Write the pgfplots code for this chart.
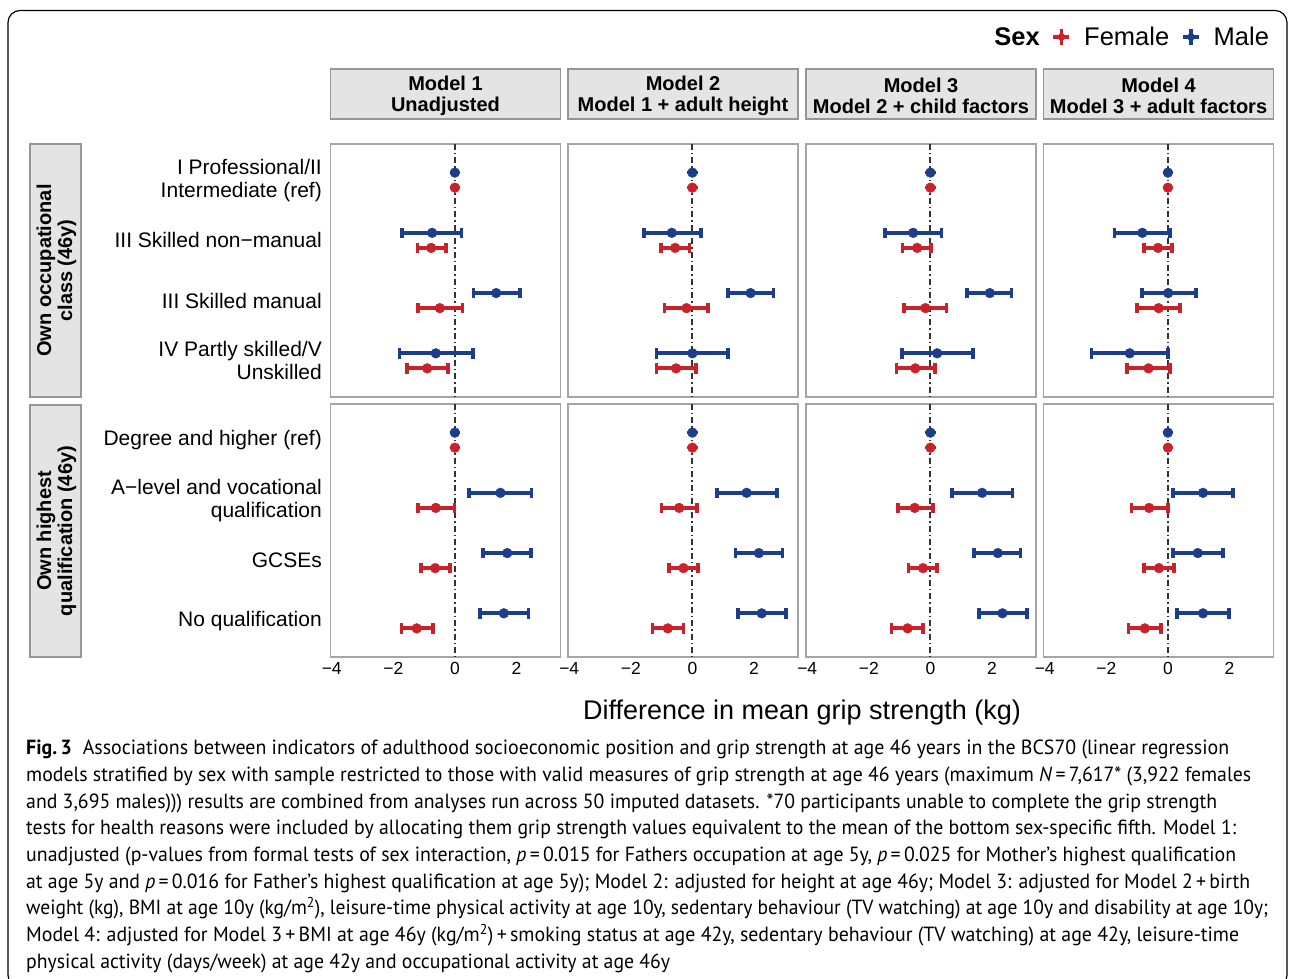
\documentclass[border=0pt]{standalone}
\usepackage{fontspec}
\setmainfont{Liberation Sans}
\newfontfamily\capfont{PT Sans}
\usepackage{graphicx}
\usepackage{pgfplots}
\usepackage{pgfplotstable}
\pgfplotsset{compat=1.18}

\definecolor{femred}{RGB}{200,34,42}
\definecolor{malblue}{RGB}{27,61,138}
\definecolor{stripfill}{RGB}{228,228,228}
\definecolor{stripline}{RGB}{150,150,150}
\definecolor{panelline}{RGB}{165,165,165}

% cat: 1-4 top to bottom; me/mlo/mhi male estimate and 95% CI, fe/flo/fhi female
\pgfplotstableread{
cat me mlo mhi fe flo fhi
1 0 0 0 0 0 0
2 -0.74 -1.71 0.21 -0.77 -1.22 -0.28
3 1.34 0.60 2.11 -0.49 -1.19 0.25
4 -0.62 -1.80 0.58 -0.90 -1.55 -0.23
}\occA
\pgfplotstableread{
cat me mlo mhi fe flo fhi
1 0 0 0 0 0 0
2 -0.67 -1.58 0.28 -0.56 -1.02 -0.10
3 1.89 1.15 2.63 -0.19 -0.90 0.51
4 0.00 -1.16 1.15 -0.53 -1.17 0.12
}\occB
\pgfplotstableread{
cat me mlo mhi fe flo fhi
1 0 0 0 0 0 0
2 -0.56 -1.48 0.36 -0.43 -0.90 0.02
3 1.93 1.19 2.63 -0.16 -0.85 0.52
4 0.22 -0.93 1.39 -0.49 -1.10 0.15
}\occC
\pgfplotstableread{
cat me mlo mhi fe flo fhi
1 0 0 0 0 0 0
2 -0.83 -1.73 0.06 -0.32 -0.77 0.14
3 0.01 -0.84 0.91 -0.30 -1.01 0.39
4 -1.24 -2.48 0.01 -0.63 -1.33 0.06
}\occD
\pgfplotstableread{
cat me mlo mhi fe flo fhi
1 0 0 0 0 0 0
2 1.48 0.45 2.49 -0.62 -1.20 -0.01
3 1.70 0.91 2.48 -0.64 -1.11 -0.16
4 1.59 0.81 2.39 -1.24 -1.74 -0.71
}\eduA
\pgfplotstableread{
cat me mlo mhi fe flo fhi
1 0 0 0 0 0 0
2 1.76 0.79 2.74 -0.43 -1.01 0.14
3 2.16 1.40 2.92 -0.29 -0.76 0.19
4 2.25 1.49 3.04 -0.80 -1.29 -0.29
}\eduB
\pgfplotstableread{
cat me mlo mhi fe flo fhi
1 0 0 0 0 0 0
2 1.68 0.71 2.66 -0.51 -1.06 0.08
3 2.19 1.41 2.93 -0.24 -0.71 0.22
4 2.34 1.57 3.13 -0.74 -1.26 -0.24
}\eduC
\pgfplotstableread{
cat me mlo mhi fe flo fhi
1 0 0 0 0 0 0
2 1.14 0.16 2.12 -0.61 -1.18 0.00
3 0.97 0.16 1.79 -0.29 -0.77 0.19
4 1.14 0.30 1.98 -0.75 -1.28 -0.23
}\eduD

\pgfplotsset{
  panel/.style={
    scale only axis, width=230pt, height=253pt, anchor=south west,
    xmin=-4.04, xmax=3.43, ymin=0.4, ymax=4.6, y dir=reverse,
    axis line style={draw=panelline, line width=1.4pt},
    xtick={-4,-2,0,2}, xticklabels={}, ytick={1,2,3,4}, yticklabels={},
    major tick length=0pt,
    xticklabel style={font=\fontsize{17.5}{19}\selectfont, inner sep=0pt, yshift=-5pt},
    yticklabel style={font=\fontsize{21}{23}\selectfont, inner sep=0pt, xshift=-8.5pt, align=right},
  },
  bottomrow/.style={xticklabels={−4,−2,0,2}},
  refline/.style={color=black!80, line width=2pt, dash pattern=on 6pt off 3pt on 1.5pt off 3pt,
    legend image code/.code={}},
  ci/.style={color=#1, only marks, mark=*, mark size=4.9pt,
    mark options={line width=0.4pt, fill=#1},
    legend image code/.code={
      \draw[line width=3.5pt] (0pt,0pt) -- (16pt,0pt);
      \draw[line width=3.5pt] (8pt,-8pt) -- (8pt,8pt);
      \fill (8pt,0pt) circle (3.5pt);},
    error bars/.cd, x dir=both, x explicit, error mark=|,
    error bar style={line width=3.8pt, #1},
    error mark options={line width=3.6pt, mark size=5.2pt, #1}},
}

\newcommand\panel[4]{%
\begin{axis}[panel, at={(#1pt,#2pt)}, #4]
\addplot[refline] coordinates {(0,0.4) (0,4.6)};
\addplot[ci=femred] table[x=fe, y expr=\thisrow{cat}+0.125,
  x error plus expr=\thisrow{fhi}-\thisrow{fe},
  x error minus expr=\thisrow{fe}-\thisrow{flo}] {#3};
\addplot[ci=malblue] table[x=me, y expr=\thisrow{cat}-0.125,
  x error plus expr=\thisrow{mhi}-\thisrow{me},
  x error minus expr=\thisrow{me}-\thisrow{mlo}] {#3};
\end{axis}}

% caption lines are measured outside the picture, then stretched to the reference line lengths
\newcommand\capfnt{\capfont\fontsize{20.5}{24}\selectfont}
\newsavebox\capA \newsavebox\capB \newsavebox\capC
\newsavebox\capD \newsavebox\capE \newsavebox\capF
\newsavebox\capG \newsavebox\capH \newsavebox\capI
\newlength\caplen
\newcommand\capline[3]{% y, target width, box
  \setlength\caplen{\wd#3}%
  \pgfmathsetmacro\capsx{#2/\caplen}%
  \node[anchor=base west, inner sep=0pt] at (26pt,#1pt) {\scalebox{\capsx}[1]{\usebox#3}};}

\begin{document}
\sbox\capA{\capfnt\textbf{Fig.\,3}\hspace{0.55em}Associations between indicators of adulthood socioeconomic position and grip strength at age 46 years in the BCS70 (linear regression}%
\sbox\capB{\capfnt models stratified by sex with sample restricted to those with valid measures of grip strength at age 46 years (maximum \textit{N}\,=\,7,617* (3,922 females}%
\sbox\capC{\capfnt and 3,695 males))) results are combined from analyses run across 50 imputed datasets. *70 participants unable to complete the grip strength}%
\sbox\capD{\capfnt tests for health reasons were included by allocating them grip strength values equivalent to the mean of the bottom sex-specific fifth. Model 1:}%
\sbox\capE{\capfnt unadjusted (p-values from formal tests of sex interaction, \textit{p}\,=\,0.015 for Fathers occupation at age 5y, \textit{p}\,=\,0.025 for Mother’s highest qualification}%
\sbox\capF{\capfnt at age 5y and \textit{p}\,=\,0.016 for Father’s highest qualification at age 5y); Model 2: adjusted for height at age 46y; Model 3: adjusted for Model 2\,+\,birth}%
\sbox\capG{\capfnt weight (kg), BMI at age 10y (kg/m\textsuperscript{2}), leisure-time physical activity at age 10y, sedentary behaviour (TV watching) at age 10y and disability at age 10y;}%
\sbox\capH{\capfnt Model 4: adjusted for Model 3\,+\,BMI at age 46y (kg/m\textsuperscript{2})\,+\,smoking status at age 42y, sedentary behaviour (TV watching) at age 42y, leisure-time}%
\sbox\capI{\capfnt physical activity (days/week) at age 42y and occupational activity at age 46y}%
\begin{tikzpicture}
\path[use as bounding box] (0,0) rectangle (1292pt,979pt);
\begin{scope}
\clip (0,0) rectangle (1292pt,979pt);
\draw[line width=1.2pt, rounded corners=12pt] (8pt,-8pt) rectangle (1287pt,968.5pt);
\end{scope}

% facet strips
\tikzset{strip/.style={fill=stripfill, draw=stripline, line width=1.2pt},
  striptext/.style={align=center, font=\fontsize{20}{21}\selectfont\bfseries}}
\foreach \x/\t in {330.5/{Model 1\\Unadjusted}, 568/{Model 2\\Model 1 + adult height},
  806/{Model 3\\Model 2 + child factors}, 1043.5/{Model 4\\Model 3 + adult factors}}{
  \draw[strip] (\x pt,860pt) rectangle ++(230pt,50pt);
  \node[striptext] at ({\x pt+115pt},883pt) {\t};
}
\draw[strip] (30pt,582pt) rectangle (81pt,835pt);
\node[striptext, rotate=90] at (56.5pt,708.5pt) {Own occupational\\class (46y)};
\draw[strip] (30pt,322pt) rectangle (81pt,574pt);
\node[striptext, rotate=90] at (56.5pt,448pt) {Own highest\\qualification (46y)};

% panels
\panel{330.5}{582}{\occA}{yticklabels={{I Professional/II\\Intermediate (ref)},{III Skilled non−manual},{III Skilled manual},{IV Partly skilled/V\\Unskilled}}}
\panel{568}{582}{\occB}{}
\panel{806}{582}{\occC}{}
\panel{1043.5}{582}{\occD}{legend entries={\textbf{Sex},Female,Male},
  legend style={draw=none, fill=none, at={(0.99,1.423)}, anchor=east,
    font=\fontsize{25.5}{28}\selectfont, legend columns=-1, inner sep=0pt,
    /tikz/every odd column/.append style={column sep=11pt},
    /tikz/every even column/.append style={column sep=10pt}}}
\panel{330.5}{322}{\eduA}{bottomrow, yticklabels={{Degree and higher (ref)},{A−level and vocational\\qualification},{GCSEs},{No qualification}}}
\panel{568}{322}{\eduB}{bottomrow}
\panel{806}{322}{\eduC}{bottomrow}
\panel{1043.5}{322}{\eduD}{bottomrow}

\node[anchor=base, font=\fontsize{27}{29}\selectfont] at (802pt,259pt) {Difference in mean grip strength (kg)};

% caption
\capline{224}{1203pt}{\capA}
\capline{197.3}{1225pt}{\capB}
\capline{170.7}{1191pt}{\capC}
\capline{144}{1210pt}{\capD}
\capline{117.3}{1210pt}{\capE}
\capline{90.7}{1224pt}{\capF}
\capline{64}{1242pt}{\capG}
\capline{37.3}{1213pt}{\capH}
\capline{10.7}{644pt}{\capI}
\end{tikzpicture}
\end{document}
